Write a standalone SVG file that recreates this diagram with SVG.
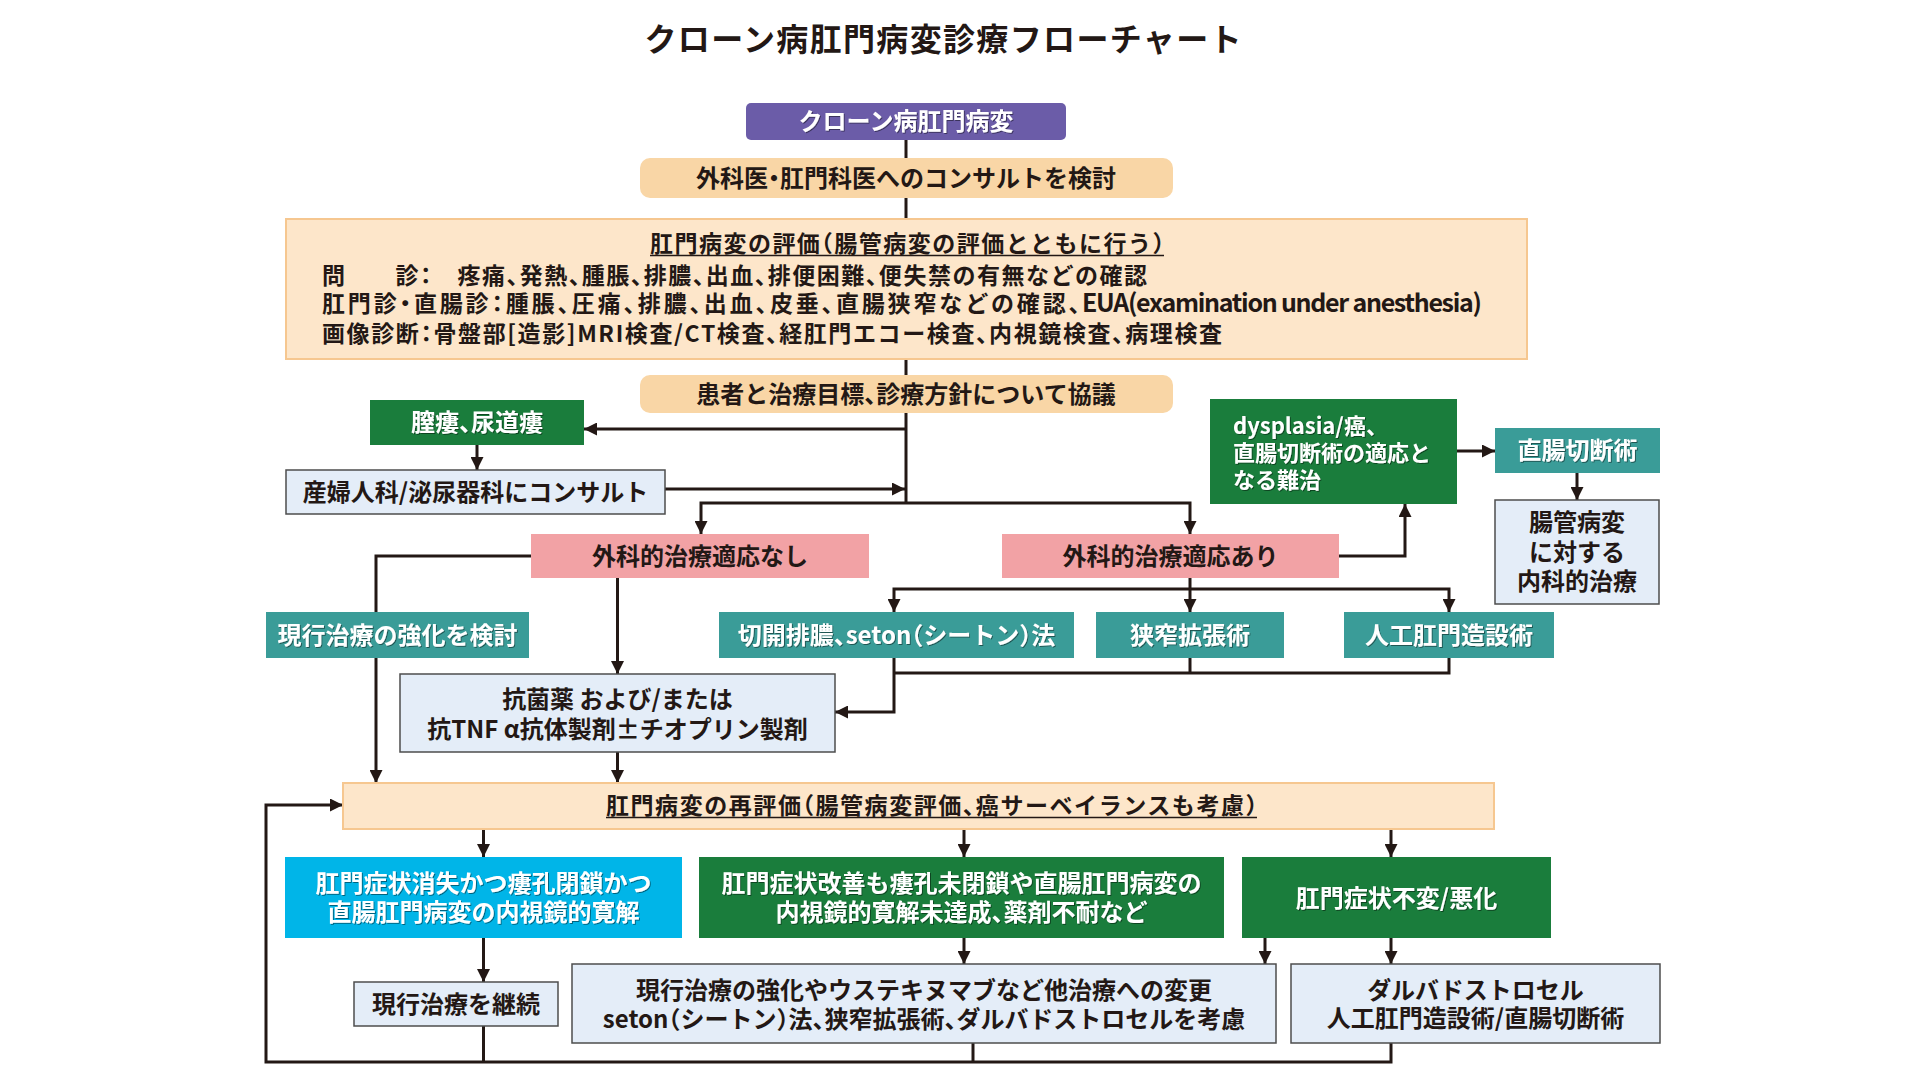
<svg xmlns="http://www.w3.org/2000/svg" width="1920" height="1080" viewBox="0 0 1920 1080">
<defs>
<style>
text{font-family:"Noto Sans CJK JP","Noto Sans",sans-serif;font-weight:700;fill:#231815;font-feature-settings:"halt";}
.c{text-anchor:middle;font-size:24px;}
.w{fill:#ffffff;filter:url(#sh);}
.s22{font-size:22px;}
.s23{font-size:23px;}
.purple{fill:#6b5ca8;}
.tan{fill:#f9d6a6;}
.ltan{fill:#fde6ca;stroke:#f6c790;stroke-width:2;}
.green{fill:#1a7d3c;}
.teal{fill:#3a9c98;}
.pink{fill:#f2a2a5;}
.light{fill:#e4edf8;stroke:#4d4d4d;stroke-width:1.5;}
.cyan{fill:#00b5e8;}
.ln{fill:none;stroke:#231815;stroke-width:3;}
.ul{stroke:#231815;stroke-width:1.5;}
</style>
<filter id="sh" x="-5%" y="-20%" width="110%" height="140%">
<feDropShadow dx="1" dy="1" stdDeviation="0.7" flood-color="#000" flood-opacity="0.45"/>
</filter>
<marker id="ah" markerUnits="userSpaceOnUse" markerWidth="13" markerHeight="13" viewBox="0 0 13 13" refX="13" refY="6.5" orient="auto">
<path d="M0,0 L13,6.5 L0,13 z" fill="#231815"/>
</marker>
</defs>
<rect width="1920" height="1080" fill="#ffffff"/>

<text id="title" x="943" y="51" text-anchor="middle" style="font-size:32px;font-weight:600" textLength="597">クローン病肛門病変診療フローチャート</text>

<g id="connectors">
<path class="ln" d="M906,140 V158"/>
<path class="ln" d="M906,198 V219"/>
<path class="ln" d="M906,359 V375"/>
<path class="ln" d="M906,413 V503"/>
<path class="ln" d="M906,429 H584" marker-end="url(#ah)"/>
<path class="ln" d="M477,445 V470" marker-end="url(#ah)"/>
<path class="ln" d="M665,489 H905" marker-end="url(#ah)"/>
<path class="ln" d="M906,503 H701 V534" marker-end="url(#ah)"/>
<path class="ln" d="M906,503 H1190 V534" marker-end="url(#ah)"/>
<path class="ln" d="M1339,556 H1405 V504" marker-end="url(#ah)"/>
<path class="ln" d="M1457,451 H1495" marker-end="url(#ah)"/>
<path class="ln" d="M1577,473 V500" marker-end="url(#ah)"/>
<path class="ln" d="M1190,578 V612" marker-end="url(#ah)"/>
<path class="ln" d="M1190,589 H894 V612" marker-end="url(#ah)"/>
<path class="ln" d="M1190,589 H1449 V612" marker-end="url(#ah)"/>
<path class="ln" d="M531,556 H376 V612"/>
<path class="ln" d="M376,658 V783" marker-end="url(#ah)"/>
<path class="ln" d="M617.5,578 V674" marker-end="url(#ah)"/>
<path class="ln" d="M617.5,752 V783" marker-end="url(#ah)"/>
<path class="ln" d="M894,658 V712 H835" marker-end="url(#ah)"/>
<path class="ln" d="M894,673 H1449 V658"/>
<path class="ln" d="M1190,658 V673"/>
<path class="ln" d="M483.5,829 V857" marker-end="url(#ah)"/>
<path class="ln" d="M964,829 V857" marker-end="url(#ah)"/>
<path class="ln" d="M1391,829 V857" marker-end="url(#ah)"/>
<path class="ln" d="M483.5,938 V982" marker-end="url(#ah)"/>
<path class="ln" d="M964,938 V964" marker-end="url(#ah)"/>
<path class="ln" d="M1265,938 V964" marker-end="url(#ah)"/>
<path class="ln" d="M1391,938 V964" marker-end="url(#ah)"/>
<path class="ln" d="M483.5,1026 V1062"/>
<path class="ln" d="M973,1043 V1062"/>
<path class="ln" d="M1391,1043 V1062 H266 V805 H343" marker-end="url(#ah)"/>
</g>

<g id="n-start"><rect class="purple" x="746" y="103" width="320" height="37" rx="5"/><text class="c w" x="906" y="130">クローン病肛門病変</text></g>
<g id="n-consult"><rect class="tan" x="640" y="158" width="533" height="40" rx="10"/><text class="c" x="906" y="187">外科医・肛門科医へのコンサルトを検討</text></g>
<g id="n-eval">
<rect class="ltan" x="286" y="219" width="1241" height="140"/>
<text x="650" y="252" class="s23" textLength="514">肛門病変の評価（腸管病変の評価とともに行う）</text>
<line class="ul" x1="650" y1="255.5" x2="1164" y2="255.5"/>
<text x="322" y="284" class="s23" textLength="825">問　　診：　疼痛、発熱、腫脹、排膿、出血、排便困難、便失禁の有無などの確認</text>
<text x="322" y="312" class="s23" textLength="758">肛門診・直腸診：腫脹、圧痛、排膿、出血、皮垂、直腸狭窄などの確認、</text>
<text x="1082" y="312" style="font-size:25px;font-weight:600" textLength="400">EUA(examination under anesthesia)</text>
<text x="322" y="342" class="s23" textLength="900">画像診断：骨盤部[造影]MRI検査/CT検査、経肛門エコー検査、内視鏡検査、病理検査</text>
</g>
<g id="n-discuss"><rect class="tan" x="640" y="375" width="533" height="38" rx="10"/><text class="c" x="906" y="403">患者と治療目標、診療方針について協議</text></g>
<g id="n-fistula"><rect class="green" x="370" y="400" width="214" height="45"/><text class="c w" x="477" y="431">膣瘻、尿道瘻</text></g>
<g id="n-obgyn"><rect class="light" x="286" y="470" width="379" height="44"/><text class="c" x="475.5" y="501">産婦人科/泌尿器科にコンサルト</text></g>
<g id="n-dysplasia"><rect class="green" x="1210" y="399" width="247" height="105"/>
<text class="s22 w" x="1233" y="434">dysplasia/癌、</text>
<text class="s22 w" x="1233" y="461">直腸切断術の適応と</text>
<text class="s22 w" x="1233" y="488">なる難治</text></g>
<g id="n-proctectomy"><rect class="teal" x="1495" y="428" width="165" height="45"/><text class="c w" x="1577.5" y="459">直腸切断術</text></g>
<g id="n-medical"><rect class="light" x="1495" y="500" width="164" height="104"/>
<text class="c" x="1577" y="531">腸管病変</text>
<text class="c" x="1577" y="561">に対する</text>
<text class="c" x="1577" y="590">内科的治療</text></g>
<g id="n-nosurg"><rect class="pink" x="531" y="534" width="338" height="44"/><text class="c" x="700" y="565">外科的治療適応なし</text></g>
<g id="n-surg"><rect class="pink" x="1002" y="534" width="337" height="44"/><text class="c" x="1170.5" y="565">外科的治療適応あり</text></g>
<g id="n-intensify"><rect class="teal" x="266" y="612" width="263" height="46"/><text class="c w" x="397.5" y="644">現行治療の強化を検討</text></g>
<g id="n-seton"><rect class="teal" x="719" y="612" width="355" height="46"/><text class="c w" x="896.5" y="644">切開排膿、seton（シートン）法</text></g>
<g id="n-dilation"><rect class="teal" x="1096" y="612" width="188" height="46"/><text class="c w" x="1190" y="644">狭窄拡張術</text></g>
<g id="n-stoma"><rect class="teal" x="1344" y="612" width="210" height="46"/><text class="c w" x="1449" y="644">人工肛門造設術</text></g>
<g id="n-drugs"><rect class="light" x="400" y="674" width="435" height="78"/>
<text class="c" x="617.5" y="708">抗菌薬 および/または</text>
<text class="c" x="617.5" y="737.5">抗TNF α抗体製剤±チオプリン製剤</text></g>
<g id="n-reeval"><rect class="ltan" x="343" y="783" width="1151" height="46"/>
<text class="s23" x="606" y="814" textLength="651">肛門病変の再評価（腸管病変評価、癌サーベイランスも考慮）</text>
<line class="ul" x1="606" y1="817.5" x2="1257" y2="817.5"/></g>
<g id="n-remission"><rect class="cyan" x="285" y="857" width="397" height="81"/>
<text class="c w" x="483.5" y="891.5">肛門症状消失かつ瘻孔閉鎖かつ</text>
<text class="c w" x="483.5" y="921">直腸肛門病変の内視鏡的寛解</text></g>
<g id="n-partial"><rect class="green" x="699" y="857" width="525" height="81"/>
<text class="c w" x="961.5" y="891.5">肛門症状改善も瘻孔未閉鎖や直腸肛門病変の</text>
<text class="c w" x="961.5" y="921">内視鏡的寛解未達成、薬剤不耐など</text></g>
<g id="n-worse"><rect class="green" x="1242" y="857" width="309" height="81"/><text class="c w" x="1396.5" y="906.5">肛門症状不変/悪化</text></g>
<g id="n-continue"><rect class="light" x="354" y="982" width="204" height="44"/><text class="c" x="456" y="1013">現行治療を継続</text></g>
<g id="n-change"><rect class="light" x="572" y="964" width="704" height="79"/>
<text class="c" x="924" y="999">現行治療の強化やウステキヌマブなど他治療への変更</text>
<text class="c" x="924" y="1028">seton（シートン）法、狭窄拡張術、ダルバドストロセルを考慮</text></g>
<g id="n-darva"><rect class="light" x="1291" y="964" width="369" height="79"/>
<text class="c" x="1475.5" y="999">ダルバドストロセル</text>
<text class="c" x="1475.5" y="1027">人工肛門造設術/直腸切断術</text></g>
</svg>
